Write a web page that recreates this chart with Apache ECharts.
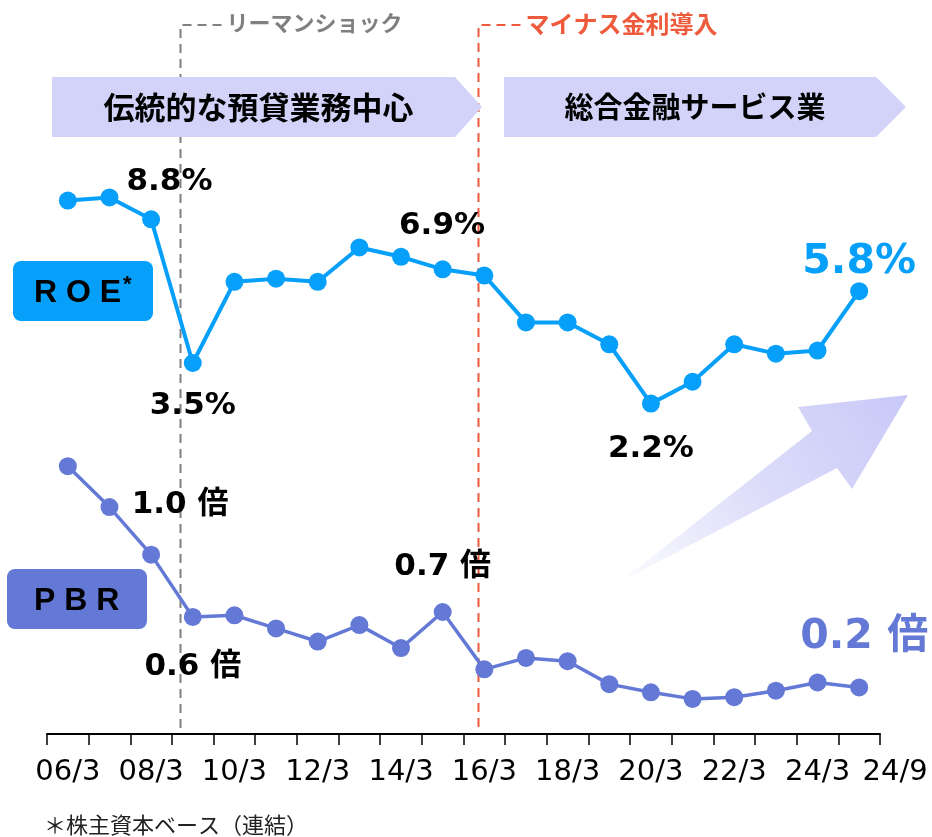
<!DOCTYPE html>
<html><head><meta charset="utf-8">
<script src="https://cdn.jsdelivr.net/npm/echarts@6/dist/echarts.min.js"></script>
<style>html,body{margin:0;padding:0;background:#fff}#c{width:932px;height:837px}</style>
</head><body><div id="c"></div><script>
// ---- data ----
const categories = ['06/3','07/3','08/3','09/3','10/3','11/3','12/3','13/3','14/3','15/3','16/3','17/3','18/3','19/3','20/3','21/3','22/3','23/3','24/3','24/9'];
const roe = [8.7, 8.8, 8.1, 3.5, 6.1, 6.2, 6.1, 7.2, 6.9, 6.5, 6.3, 4.8, 4.8, 4.1, 2.2, 2.9, 4.1, 3.8, 3.9, 5.8];
const pbr = [1.55, 1.30, 1.01, 0.63, 0.64, 0.56, 0.48, 0.58, 0.44, 0.66, 0.31, 0.38, 0.36, 0.22, 0.17, 0.13, 0.14, 0.18, 0.23, 0.20];
const phases = ['伝統的な預貸業務中心', '総合金融サービス業'];
const events = [{name: 'リーマンショック', at: 2.7}, {name: 'マイナス金利導入', at: 9.84}];
const seriesNames = ['R O E', 'P B R'];
const footnote = '＊株主資本ベース（連結）';
const roeCalloutIdx = [1, 8, 3, 14, 19];
const pbrCalloutIdx = [2, 3, 9, 19];

// ---- styles ----
const C_ROE = '#069ffa', C_PBR = '#6479d6', C_BAN = '#d3d3fa';
const EV_COLORS = ['#808080', '#ee5a3c'];
const EV_SIZE = [22, 24];
const PH_SIZE = [31, 29];
const roeOff = {1: [60, -15], 8: [41, -31], 3: [0, 43], 14: [0, 45], 19: [0, -29]};
const pbrOff = {2: [29, -50], 3: [0, 50], 9: [0, -45], 19: [5, -50]};
const LBL_FONT = "'DejaVu Sans','Noto Sans CJK JP',sans-serif";

function mkData(vals, idxs, off, fmt, lastColor) {
  return vals.map((v, i) => {
    if (idxs.indexOf(i) < 0) return v;
    const big = i === vals.length - 1;
    return {value: v, label: {
      show: true, position: 'inside', offset: off[i], formatter: () => fmt(v),
      fontFamily: LBL_FONT, fontWeight: 'bold', fontSize: big ? 41 : 31,
      color: big ? lastColor : '#000', textBorderWidth: 0
    }};
  });
}

const chart = echarts.init(document.getElementById('c'), null, {renderer: 'canvas'});
const option = {
  animation: false,
  backgroundColor: '#fff',
  grid: {left: 47, right: 52, top: 40, bottom: 103, containLabel: false},
  xAxis: {
    type: 'category', data: categories, boundaryGap: true,
    axisLine: {onZero: false, lineStyle: {color: '#000', width: 2}},
    axisTick: {show: true, interval: 0, length: 11, lineStyle: {color: '#000', width: 1.5}},
    axisLabel: {
      interval: (i) => i % 2 === 0 || i === categories.length - 1,
      margin: 24, fontSize: 29, fontFamily: LBL_FONT, color: '#000',
      formatter: (v, i) => i === categories.length - 1 ? '{last|' + v + '}' : v,
      rich: {last: {padding: [0, 0, 0, 72], fontSize: 29, fontFamily: LBL_FONT, color: '#000'}}
    },
    splitLine: {show: false}
  },
  yAxis: [
    {type: 'value', show: false, min: -8.376, max: 13.84, splitLine: {show: false}},
    {type: 'value', show: false, min: -0.0843, max: 4.150, splitLine: {show: false}}
  ],
  series: [
    {name: 'ROE', type: 'line', yAxisIndex: 0, z: 5,
     data: mkData(roe, roeCalloutIdx, roeOff, v => v.toFixed(1) + '%', C_ROE),
     symbol: 'circle', symbolSize: 18, showSymbol: true,
     itemStyle: {color: C_ROE}, lineStyle: {color: C_ROE, width: 4}},
    {name: 'PBR', type: 'line', yAxisIndex: 1, z: 5,
     data: mkData(pbr, pbrCalloutIdx, pbrOff, v => v.toFixed(1) + ' 倍', C_PBR),
     symbol: 'circle', symbolSize: 18, showSymbol: true,
     itemStyle: {color: C_PBR}, lineStyle: {color: C_PBR, width: 3.5}}
  ]
};
chart.setOption(option);

// event lines positioned through the category axis
function catX(pos) {
  const a = Math.floor(pos), b = a + 1;
  const xa = chart.convertToPixel({xAxisIndex: 0}, a);
  const xb = chart.convertToPixel({xAxisIndex: 0}, b);
  return xa + (xb - xa) * (pos - a);
}
const axisY = chart.convertToPixel({yAxisIndex: 0}, -8.376);
const g = [];
events.forEach((e, k) => {
  const x = Math.round(catX(e.at)) + 0.5;
  const labelX = x + (k === 0 ? 46 : 47);
  g.push({type: 'polyline', z: 1, silent: true,
    shape: {points: [[labelX - 5, 25], [x, 25], [x, axisY - 4]]},
    style: {stroke: EV_COLORS[k], lineWidth: 2, lineDash: [9, 6], fill: null}});
  g.push({type: 'text', z: 3, left: labelX, top: 12,
    style: {text: e.name, fill: EV_COLORS[k], font: 'bold ' + EV_SIZE[k] + "px 'Noto Sans CJK JP'"}});
});
// phase banners
const ban = [[52, 455, 482], [504, 876, 906]];
ban.forEach((b, k) => {
  g.push({type: 'polygon', z: 2, silent: true,
    shape: {points: [[b[0], 77], [b[1], 77], [b[2], 107], [b[1], 137], [b[0], 137]]},
    style: {fill: C_BAN}});
  g.push({type: 'text', z: 3, x: (b[0] + b[1]) / 2 + 5, y: 107,
    style: {text: phases[k], fill: '#000', font: 'bold ' + PH_SIZE[k] + "px 'Noto Sans CJK JP'", align: 'center', verticalAlign: 'middle'}});
});
// series name boxes
g.push({type: 'rect', z: 3, shape: {x: 13, y: 261, width: 140, height: 60, r: 8}, style: {fill: C_ROE}});
g.push({type: 'text', z: 4, x: 34, y: 293, style: {text: seriesNames[0], fill: '#000', font: "bold 32px 'Liberation Sans'", verticalAlign: 'middle'}});
g.push({type: 'text', z: 4, x: 123, y: 274, style: {text: '*', fill: '#000', font: "bold 22px 'Liberation Sans'"}});
g.push({type: 'rect', z: 3, shape: {x: 7, y: 569, width: 140, height: 60, r: 8}, style: {fill: C_PBR}});
g.push({type: 'text', z: 4, x: 34, y: 601, style: {text: seriesNames[1], fill: '#000', font: "bold 32px 'Liberation Sans'", verticalAlign: 'middle'}});
// upward arrow decoration
g.push({type: 'polygon', z: 0, silent: true,
  shape: {points: [[620, 582], [812, 431], [798, 407], [908, 395], [852, 489], [837, 468]]},
  style: {fill: new echarts.graphic.LinearGradient(620, 582, 908, 395, [
    {offset: 0, color: 'rgba(215,215,250,0.05)'}, {offset: 0.5, color: '#dcdcfa'}, {offset: 1, color: '#c8c8f8'}], true)}});
// footnote
g.push({type: 'text', z: 3, x: 44, y: 825, style: {text: footnote, fill: '#222', font: "22px 'Noto Sans CJK JP'", verticalAlign: 'middle'}});
chart.setOption({graphic: g});
</script></body></html>
